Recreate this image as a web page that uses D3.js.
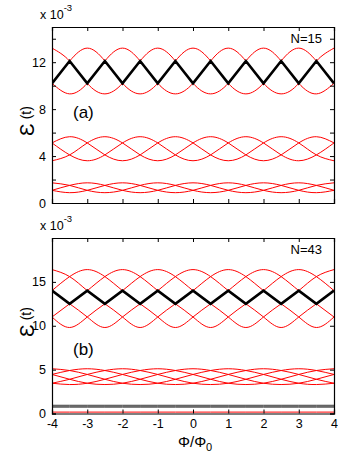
<!DOCTYPE html>
<html>
<head>
<meta charset="utf-8">
<script src="https://cdn.jsdelivr.net/npm/d3@7"></script>
<style>
  body { margin: 0; background: #fff; }
  svg { display: block; font-family: "Liberation Sans", Arial, sans-serif; }
</style>
</head>
<body>
<svg id="chart" width="338" height="459"></svg>
<script>
// flux samples, every half flux quantum
const phi = [-4, -3.5, -3, -2.5, -2, -1.5, -1, -0.5, 0, 0.5, 1, 1.5, 2, 2.5, 3, 3.5, 4]
const xTickVals = [-4, -3, -2, -1, 0, 1, 2, 3, 4]

// panel (a), N=15, values in units of 1e-3
const aTickVals = [0, 2, 4, 6, 8, 10, 12, 14]
const aTickLabels = [0, 4, 8, 12]
const aTopRed = [
  [13.2, 12.1, 10.2, 9.3, 10.2, 12.1, 13.2, 12.1, 10.2, 9.3, 10.2, 12.1, 13.2, 12.1, 10.2, 9.3, 10.2],
  [10.2, 12.1, 13.2, 12.1, 10.2, 9.3, 10.2, 12.1, 13.2, 12.1, 10.2, 9.3, 10.2, 12.1, 13.2, 12.1, 10.2],
  [10.2, 9.3, 10.2, 12.1, 13.2, 12.1, 10.2, 9.3, 10.2, 12.1, 13.2, 12.1, 10.2, 9.3, 10.2, 12.1, 13.2]
]
const aTopBlack = [10.2, 12.1, 10.2, 12.1, 10.2, 12.1, 10.2, 12.1, 10.2, 12.1, 10.2, 12.1, 10.2, 12.1, 10.2, 12.1, 10.2]
const aMidRed = [
  [5.12, 5.65, 5.12, 4.1, 3.6, 4.1, 5.12, 5.65, 5.12, 4.1, 3.6, 4.1, 5.12, 5.65, 5.12, 4.1, 3.6],
  [3.6, 4.1, 5.12, 5.65, 5.12, 4.1, 3.6, 4.1, 5.12, 5.65, 5.12, 4.1, 3.6, 4.1, 5.12, 5.65, 5.12],
  [5.12, 4.1, 3.6, 4.1, 5.12, 5.65, 5.12, 4.1, 3.6, 4.1, 5.12, 5.65, 5.12, 4.1, 3.6, 4.1, 5.12]
]
const aLowRed = [
  [1.72, 1.5, 1.08, 0.88, 1.08, 1.5, 1.72, 1.5, 1.08, 0.88, 1.08, 1.5, 1.72, 1.5, 1.08, 0.88, 1.08],
  [1.08, 1.5, 1.72, 1.5, 1.08, 0.88, 1.08, 1.5, 1.72, 1.5, 1.08, 0.88, 1.08, 1.5, 1.72, 1.5, 1.08],
  [1.08, 0.88, 1.08, 1.5, 1.72, 1.5, 1.08, 0.88, 1.08, 1.5, 1.72, 1.5, 1.08, 0.88, 1.08, 1.5, 1.72]
]

// panel (b), N=43
const bTickVals = [0, 5, 10, 15]
const bTopRed = [
  [16.4, 15.6, 14.0, 12.5, 11.0, 9.8, 11.0, 12.5, 14.0, 15.6, 16.4, 15.6, 14.0, 12.5, 11.0, 9.8, 11.0],
  [14.0, 15.6, 16.4, 15.6, 14.0, 12.5, 11.0, 9.8, 11.0, 12.5, 14.0, 15.6, 16.4, 15.6, 14.0, 12.5, 11.0],
  [11.0, 12.5, 14.0, 15.6, 16.4, 15.6, 14.0, 12.5, 11.0, 9.8, 11.0, 12.5, 14.0, 15.6, 16.4, 15.6, 14.0],
  [11.0, 9.8, 11.0, 12.5, 14.0, 15.6, 16.4, 15.6, 14.0, 12.5, 11.0, 9.8, 11.0, 12.5, 14.0, 15.6, 16.4],
  [14.0, 12.5, 11.0, 9.8, 11.0, 12.5, 14.0, 15.6, 16.4, 15.6, 14.0, 12.5, 11.0, 9.8, 11.0, 12.5, 14.0]
]
const bTopBlack = [14.0, 12.5, 14.0, 12.5, 14.0, 12.5, 14.0, 12.5, 14.0, 12.5, 14.0, 12.5, 14.0, 12.5, 14.0, 12.5, 14.0]
const bMidRed = [
  [5.1, 4.9, 4.45, 3.9, 3.45, 3.3, 3.45, 3.9, 4.45, 4.9, 5.1, 4.9, 4.45, 3.9, 3.45, 3.3, 3.45],
  [4.45, 4.9, 5.1, 4.9, 4.45, 3.9, 3.45, 3.3, 3.45, 3.9, 4.45, 4.9, 5.1, 4.9, 4.45, 3.9, 3.45],
  [3.45, 3.9, 4.45, 4.9, 5.1, 4.9, 4.45, 3.9, 3.45, 3.3, 3.45, 3.9, 4.45, 4.9, 5.1, 4.9, 4.45],
  [3.45, 3.3, 3.45, 3.9, 4.45, 4.9, 5.1, 4.9, 4.45, 3.9, 3.45, 3.3, 3.45, 3.9, 4.45, 4.9, 5.1],
  [4.45, 3.9, 3.45, 3.3, 3.45, 3.9, 4.45, 4.9, 5.1, 4.9, 4.45, 3.9, 3.45, 3.3, 3.45, 3.9, 4.45]
]
const bLowBlack = [
  [0.94, 0.94, 0.94, 0.94, 0.94, 0.94, 0.94, 0.94, 0.94, 0.94, 0.94, 0.94, 0.94, 0.94, 0.94, 0.94, 0.94],
  [0.83, 0.83, 0.83, 0.83, 0.83, 0.83, 0.83, 0.83, 0.83, 0.83, 0.83, 0.83, 0.83, 0.83, 0.83, 0.83, 0.83],
  [0.72, 0.72, 0.72, 0.72, 0.72, 0.72, 0.72, 0.72, 0.72, 0.72, 0.72, 0.72, 0.72, 0.72, 0.72, 0.72, 0.72]
]
const bLowRed = [0.16, 0.16, 0.16, 0.16, 0.16, 0.16, 0.16, 0.16, 0.16, 0.16, 0.16, 0.16, 0.16, 0.16, 0.16, 0.16, 0.16]

const svg = d3.select('#chart')
const left = 52, right = 334

function drawPanel(p) {
  let x = d3.scaleLinear().domain([-4, 4]).range([left, right])
  let y = d3.scaleLinear().domain(p.yDomain).range([p.bottom, p.top])
  let g = svg.append('g')

  g.append('clipPath').attr('id', p.id + 'clip')
    .append('rect')
    .attr('x', left).attr('y', p.top)
    .attr('width', right - left).attr('height', p.bottom - p.top)

  let plot = g.append('g').attr('clip-path', 'url(#' + p.id + 'clip)')

  let smooth = d3.line()
    .x((d, i) => x(phi[i]))
    .y(d => y(d))
    .curve(d3.curveNatural)
  let straight = d3.line()
    .x((d, i) => x(phi[i]))
    .y(d => y(d))

  p.low.forEach(s => {
    plot.append('path').attr('d', straight(s.values))
      .style('fill', 'none').style('stroke', s.color).style('stroke-width', s.width)
  })
  p.red.forEach(series => {
    plot.append('path').attr('d', smooth(series))
      .style('fill', 'none').style('stroke', '#ff0000').style('stroke-width', 1)
  })
  plot.append('path').attr('d', straight(p.black))
    .style('fill', 'none').style('stroke', '#000').style('stroke-width', 2.6)
    .style('stroke-linejoin', 'miter')

  // box with inward ticks
  let axL = g.append('g').attr('transform', 'translate(' + left + ',0)')
    .call(d3.axisLeft(y).tickValues(p.yTicks).tickSize(-4).tickPadding(6)
      .tickFormat(d => p.yLabels.indexOf(d) >= 0 ? d : ''))
  let axR = g.append('g').attr('transform', 'translate(' + right + ',0)')
    .call(d3.axisRight(y).tickValues(p.yTicks).tickSize(-4).tickFormat(''))
  let axT = g.append('g').attr('transform', 'translate(0,' + p.top + ')')
    .call(d3.axisTop(x).tickValues(xTickVals).tickSize(-4).tickFormat(''))
  let axB = g.append('g').attr('transform', 'translate(0,' + p.bottom + ')')
    .call(d3.axisBottom(x).tickValues(xTickVals).tickSize(-4).tickPadding(6)
      .tickFormat(p.xLabels ? d => d : ''))

  ;[axL, axR, axT, axB].forEach(a => {
    a.select('.domain').attr('stroke', '#000').attr('stroke-width', 1.2)
    a.selectAll('text').style('font-size', '12.5px').style('fill', '#000')
      .style('font-family', '"Liberation Sans", Arial, sans-serif')
  })

  // scale factor
  let sf = g.append('text').attr('x', 40).attr('y', p.top - 8)
    .style('font-size', '12.5px')
  sf.append('tspan').text('x 10')
  sf.append('tspan').attr('dy', -8).style('font-size', '9.5px').text('-3')

  g.append('text').attr('x', 322).attr('y', p.top + 16)
    .attr('text-anchor', 'end').style('font-size', '13px').text(p.nLabel)

  g.append('text').attr('x', 73).attr('y', p.panelY)
    .style('font-size', '17px').text(p.panelLabel)

  // y title, (t) sits high like in the original
  let yl = g.append('text')
    .attr('transform', 'translate(34,' + p.yLabelY + ') rotate(-90)')
    .attr('text-anchor', 'middle')
  yl.append('tspan').style('font-size', '21px').text('Ɛ')
  yl.append('tspan').attr('dy', -3).style('font-size', '14px').text(' (t)')
}

drawPanel({
  id: 'a', top: 27, bottom: 203, yDomain: [0, 15],
  yTicks: aTickVals, yLabels: aTickLabels,
  red: aTopRed.concat(aMidRed, aLowRed), black: aTopBlack, low: [],
  nLabel: 'N=15', panelLabel: '(a)', panelY: 118, yLabelY: 121, xLabels: false
})

drawPanel({
  id: 'b', top: 238, bottom: 413.5, yDomain: [0, 20],
  yTicks: bTickVals, yLabels: bTickVals,
  red: bTopRed.concat(bMidRed), black: bTopBlack,
  low: bLowBlack.map(v => ({ values: v, color: '#444', width: 1 }))
    .concat([{ values: bLowRed, color: '#ff0000', width: 1 }]),
  nLabel: 'N=43', panelLabel: '(b)', panelY: 355, yLabelY: 322, xLabels: true
})

// x axis title
let xt = svg.append('text').attr('x', 178).attr('y', 447)
  .style('font-size', '15px').style('font-family', '"Liberation Sans", Arial, sans-serif')
xt.append('tspan').text('Φ/Φ')
xt.append('tspan').attr('dy', 4).style('font-size', '11px').text('0')
</script>
</body>
</html>
